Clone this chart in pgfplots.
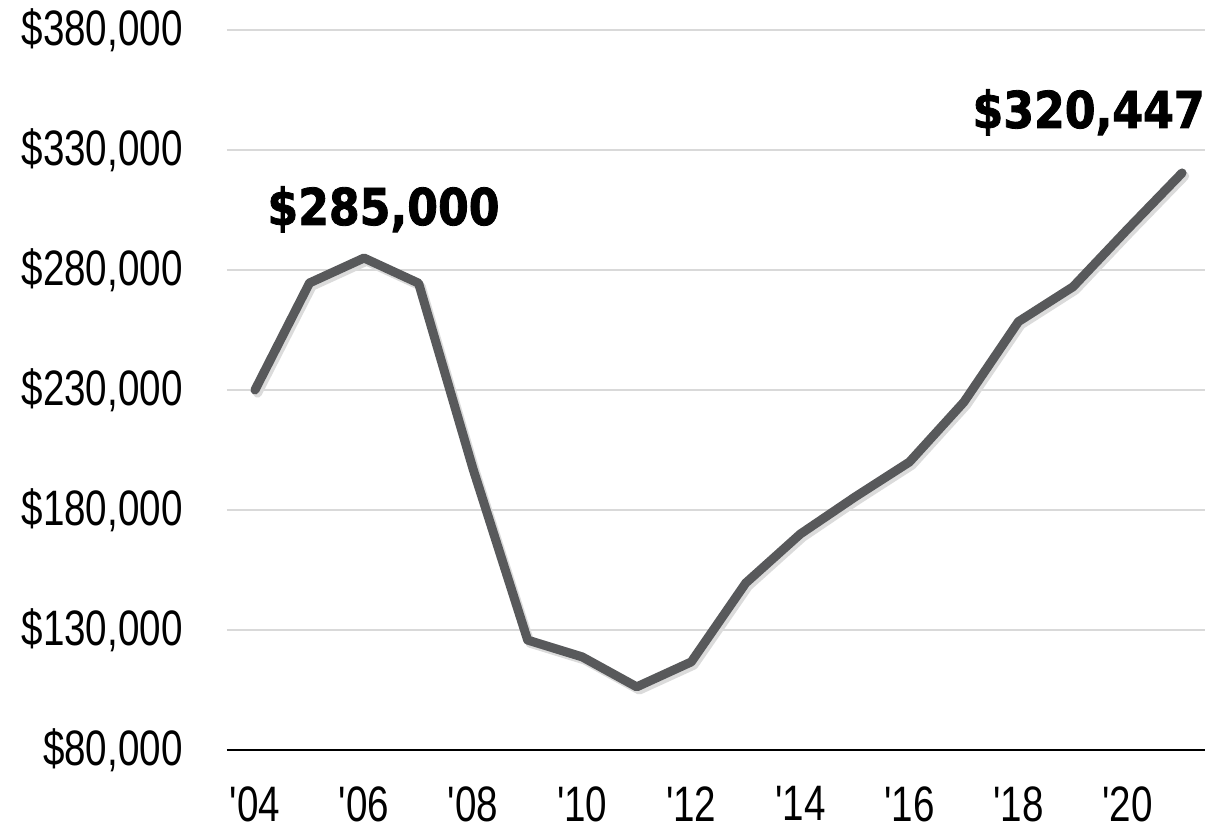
\documentclass[border=0pt]{standalone}
\usepackage{pgfplots}
\pgfplotsset{compat=1.18}
\usepackage{pgfplotstable}
\usepackage{fontspec}
\setmainfont{Liberation Sans}
\newfontfamily\tickfont[FakeStretch=0.775,Ligatures=TeXOff]{Liberation Sans}
\newfontfamily\boldfont[FakeStretch=0.87,FakeBold=1.6]{DejaVu Sans}
\definecolor{linegray}{RGB}{88,89,91}
\definecolor{gridgray}{RGB}{217,217,217}

\pgfplotstableread{
year price
2004 230000
2005 274600
2006 285000
2007 274500
2008 197000
2009 125800
2010 118800
2011 106300
2012 116700
2013 149600
2014 170000
2015 185400
2016 200000
2017 225000
2018 258500
2019 273000
2020 297000
2021 320447
}\prices

\begin{document}
\begin{tikzpicture}
\useasboundingbox (-113.5pt,-40.5pt) rectangle (500pt,375pt);
\begin{axis}[
  at={(0,0)}, anchor=south west,
  scale only axis, width=489pt, height=360pt,
  xmin=2003.487, xmax=2021.42,
  ymin=80000, ymax=380000,
  axis x line*=bottom, axis y line*=left,
  x axis line style={black, line width=1.2pt, -},
  y axis line style={draw=none},
  major tick length=0pt,
  scaled y ticks=false, scaled x ticks=false,
  xtick={2004,2006,...,2020},
  xticklabels={'04,'06,'08,'10,'12,'14,'16,'18,'20},
  ytick={80000,130000,180000,230000,280000,330000,380000},
  yticklabels={{\$80,000},{\$130,000},{\$180,000},{\$230,000},{\$280,000},{\$330,000},{\$380,000}},
  tick label style={font=\tickfont\fontsize{24.9}{28}\selectfont, inner sep=0pt},
  yticklabel style={anchor=east, xshift=-22pt},
  xticklabel style={anchor=north, yshift=-18pt},
  ymajorgrids, xmajorgrids=false,
  grid style={gridgray, line width=1pt},
  clip=false,
]
\addplot[black!14, line width=4.5pt, line join=round, line cap=round, xshift=1.3pt, yshift=-1.6pt, forget plot] table[x=year,y=price]{\prices};
\addplot[linegray, line width=4.5pt, line join=round, line cap=round] table[x=year,y=price]{\prices};
\node[anchor=base, inner sep=0pt, font=\boldfont\bfseries\fontsize{25.4}{30}\selectfont] at (axis cs:2006.356,298750) {\$285,000};
\node[anchor=base east, inner sep=0pt, font=\boldfont\bfseries\fontsize{25.4}{30}\selectfont] at (axis cs:2021.42,339167) {\$320,447};
\end{axis}
\end{tikzpicture}
\end{document}
